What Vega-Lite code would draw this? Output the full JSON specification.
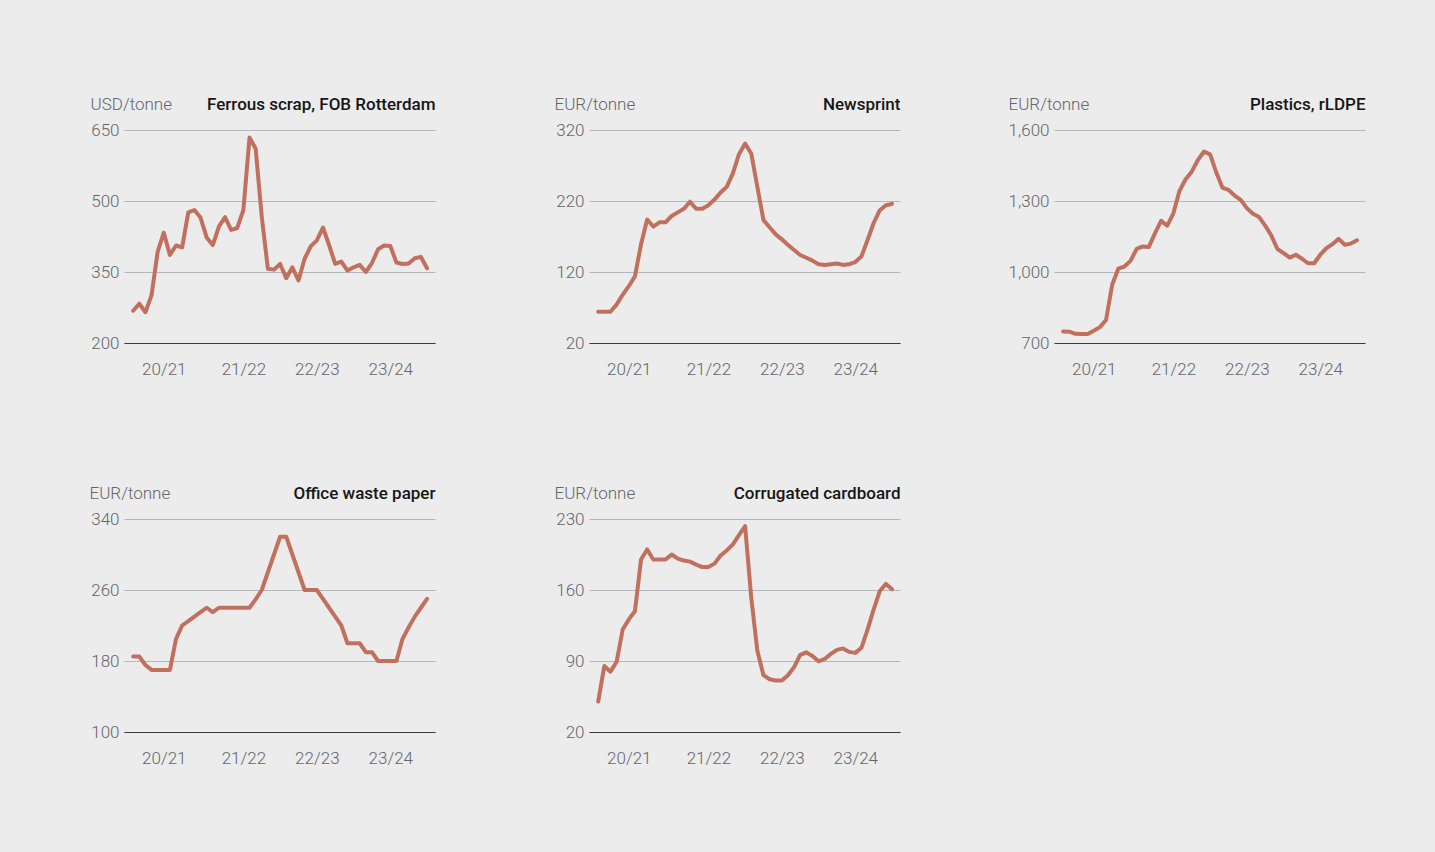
{
  "$schema": "https://vega.github.io/schema/vega-lite/v6.json",
  "background": "#ececec",
  "padding": {"left": 89, "top": 95, "right": 70, "bottom": 88},
  "bounds": "flush",
  "columns": 3,
  "spacing": {"row": 176, "column": 154},
  "datasets": {
    "ferrous": [
      {"m":0,"v":268},{"m":1,"v":283},{"m":2,"v":265},{"m":3,"v":301},{"m":4,"v":393},{"m":5,"v":433},{"m":6,"v":386},{"m":7,"v":406},{"m":8,"v":402},{"m":9,"v":476},
      {"m":10,"v":481},{"m":11,"v":465},{"m":12,"v":423},{"m":13,"v":407},{"m":14,"v":446},{"m":15,"v":466},{"m":16,"v":439},{"m":17,"v":443},{"m":18,"v":481},{"m":19,"v":634},
      {"m":20,"v":611},{"m":21,"v":467},{"m":22,"v":357},{"m":23,"v":355},{"m":24,"v":367},{"m":25,"v":337},{"m":26,"v":360},{"m":27,"v":332},{"m":28,"v":378},{"m":29,"v":404},
      {"m":30,"v":417},{"m":31,"v":444},{"m":32,"v":407},{"m":33,"v":367},{"m":34,"v":372},{"m":35,"v":353},{"m":36,"v":360},{"m":37,"v":365},{"m":38,"v":350},{"m":39,"v":369},
      {"m":40,"v":398},{"m":41,"v":406},{"m":42,"v":405},{"m":43,"v":370},{"m":44,"v":367},{"m":45,"v":368},{"m":46,"v":379},{"m":47,"v":382},{"m":48,"v":358}
    ],
    "newsprint": [
      {"m":0,"v":64},{"m":1,"v":64},{"m":2,"v":64},{"m":3,"v":74},{"m":4,"v":88},{"m":5,"v":100},{"m":6,"v":114},{"m":7,"v":159},{"m":8,"v":194},{"m":9,"v":184},
      {"m":10,"v":190},{"m":11,"v":190},{"m":12,"v":199},{"m":13,"v":204},{"m":14,"v":209},{"m":15,"v":219},{"m":16,"v":209},{"m":17,"v":209},{"m":18,"v":214},{"m":19,"v":222},
      {"m":20,"v":232},{"m":21,"v":240},{"m":22,"v":259},{"m":23,"v":286},{"m":24,"v":301},{"m":25,"v":287},{"m":26,"v":240},{"m":27,"v":193},{"m":28,"v":183},{"m":29,"v":173},
      {"m":30,"v":166},{"m":31,"v":158},{"m":32,"v":151},{"m":33,"v":144},{"m":34,"v":140},{"m":35,"v":136},{"m":36,"v":131},{"m":37,"v":130},{"m":38,"v":131},{"m":39,"v":132},
      {"m":40,"v":130},{"m":41,"v":131},{"m":42,"v":134},{"m":43,"v":142},{"m":44,"v":165},{"m":45,"v":189},{"m":46,"v":207},{"m":47,"v":214},{"m":48,"v":216}
    ],
    "plastics": [
      {"m":0,"v":749},{"m":1,"v":748},{"m":2,"v":739},{"m":3,"v":738},{"m":4,"v":738},{"m":5,"v":752},{"m":6,"v":767},{"m":7,"v":797},{"m":8,"v":946},{"m":9,"v":1014},
      {"m":10,"v":1023},{"m":11,"v":1047},{"m":12,"v":1098},{"m":13,"v":1108},{"m":14,"v":1106},{"m":15,"v":1164},{"m":16,"v":1216},{"m":17,"v":1196},{"m":18,"v":1248},{"m":19,"v":1343},
      {"m":20,"v":1392},{"m":21,"v":1424},{"m":22,"v":1473},{"m":23,"v":1509},{"m":24,"v":1497},{"m":25,"v":1421},{"m":26,"v":1357},{"m":27,"v":1347},{"m":28,"v":1323},{"m":29,"v":1305},
      {"m":30,"v":1270},{"m":31,"v":1246},{"m":32,"v":1232},{"m":33,"v":1196},{"m":34,"v":1154},{"m":35,"v":1097},{"m":36,"v":1080},{"m":37,"v":1061},{"m":38,"v":1073},{"m":39,"v":1056},
      {"m":40,"v":1037},{"m":41,"v":1037},{"m":42,"v":1073},{"m":43,"v":1101},{"m":44,"v":1118},{"m":45,"v":1140},{"m":46,"v":1115},{"m":47,"v":1120},{"m":48,"v":1134}
    ],
    "office": [
      {"m":0,"v":185},{"m":1,"v":185},{"m":2,"v":175.5},{"m":3,"v":170},{"m":4,"v":170},{"m":5,"v":170},{"m":6,"v":170},{"m":7,"v":205},{"m":8,"v":220},{"m":9,"v":225},
      {"m":10,"v":230},{"m":11,"v":235},{"m":12,"v":240},{"m":13,"v":235},{"m":14,"v":240},{"m":15,"v":240},{"m":16,"v":240},{"m":17,"v":240},{"m":18,"v":240},{"m":19,"v":240},
      {"m":20,"v":249.5},{"m":21,"v":260},{"m":22,"v":280},{"m":23,"v":300},{"m":24,"v":320},{"m":25,"v":320},{"m":26,"v":300},{"m":27,"v":280},{"m":28,"v":260},{"m":29,"v":260},
      {"m":30,"v":260},{"m":31,"v":250},{"m":32,"v":240},{"m":33,"v":230},{"m":34,"v":220},{"m":35,"v":200},{"m":36,"v":200},{"m":37,"v":200},{"m":38,"v":190},{"m":39,"v":190},
      {"m":40,"v":180},{"m":41,"v":180},{"m":42,"v":180},{"m":43,"v":180},{"m":44,"v":205},{"m":45,"v":218},{"m":46,"v":230},{"m":47,"v":240},{"m":48,"v":250}
    ],
    "corrugated": [
      {"m":0,"v":50},{"m":1,"v":85},{"m":2,"v":79.5},{"m":3,"v":89},{"m":4,"v":121},{"m":5,"v":131},{"m":6,"v":139},{"m":7,"v":190},{"m":8,"v":200},{"m":9,"v":190},
      {"m":10,"v":190},{"m":11,"v":190},{"m":12,"v":195},{"m":13,"v":191},{"m":14,"v":189},{"m":15,"v":188},{"m":16,"v":185},{"m":17,"v":182.6},{"m":18,"v":182.6},{"m":19,"v":186},
      {"m":20,"v":194},{"m":21,"v":199},{"m":22,"v":205},{"m":23,"v":214},{"m":24,"v":223},{"m":25,"v":152.5},{"m":26,"v":100},{"m":27,"v":76},{"m":28,"v":72},{"m":29,"v":70.7},
      {"m":30,"v":70.7},{"m":31,"v":76},{"m":32,"v":84},{"m":33,"v":96},{"m":34,"v":98.5},{"m":35,"v":95},{"m":36,"v":89.7},{"m":37,"v":92},{"m":38,"v":97},{"m":39,"v":101},
      {"m":40,"v":102.4},{"m":41,"v":99},{"m":42,"v":98},{"m":43,"v":103},{"m":44,"v":121},{"m":45,"v":141},{"m":46,"v":159},{"m":47,"v":166},{"m":48,"v":160.7}
    ]
  },
  "concat": [
    {
      "width": 311, "height": 213,
      "data": {"name": "ferrous"},
      "resolve": {"axis": {"x": "independent"}},
      "layer": [
        {"mark": {"type": "rule", "strokeOpacity": 0},
         "encoding": {
           "x": {"field": "m", "type": "quantitative", "scale": {"domain": [-1.5, 49.3], "nice": false, "zero": false},
                 "axis": {"orient": "top", "title": "Ferrous scrap, FOB Rotterdam", "labels": false, "ticks": false, "domain": false, "grid": false, "titleX": 311, "titleY": -21, "titleAlign": "right", "titleBaseline": "alphabetic", "titleFontWeight": 500, "titleColor": "#161616"}}}},
        {"mark": {"type": "line", "color": "#c1705e", "strokeWidth": 4, "strokeCap": "round", "strokeJoin": "round"},
         "encoding": {
           "x": {"field": "m", "type": "quantitative",
                 "axis": {"orient": "bottom", "title": null, "values": [5, 18, 30, 42], "labelExpr": "datum.value == 5 ? '20/21' : datum.value == 18 ? '21/22' : datum.value == 30 ? '22/23' : '23/24'"}},
           "y": {"field": "v", "type": "quantitative", "scale": {"domain": [200, 650], "nice": false, "zero": false},
                 "axis": {"title": "USD/tonne", "titleX": -34, "values": [200, 350, 500, 650]}}}}
      ]
    },
    {
      "width": 311, "height": 213,
      "data": {"name": "newsprint"},
      "resolve": {"axis": {"x": "independent"}},
      "layer": [
        {"mark": {"type": "rule", "strokeOpacity": 0},
         "encoding": {
           "x": {"field": "m", "type": "quantitative", "scale": {"domain": [-1.5, 49.3], "nice": false, "zero": false},
                 "axis": {"orient": "top", "title": "Newsprint", "labels": false, "ticks": false, "domain": false, "grid": false, "titleX": 311, "titleY": -21, "titleAlign": "right", "titleBaseline": "alphabetic", "titleFontWeight": 500, "titleColor": "#161616"}}}},
        {"mark": {"type": "line", "color": "#c1705e", "strokeWidth": 4, "strokeCap": "round", "strokeJoin": "round"},
         "encoding": {
           "x": {"field": "m", "type": "quantitative",
                 "axis": {"orient": "bottom", "title": null, "values": [5, 18, 30, 42], "labelExpr": "datum.value == 5 ? '20/21' : datum.value == 18 ? '21/22' : datum.value == 30 ? '22/23' : '23/24'"}},
           "y": {"field": "v", "type": "quantitative", "scale": {"domain": [20, 320], "nice": false, "zero": false},
                 "axis": {"title": "EUR/tonne", "titleX": -35, "values": [20, 120, 220, 320]}}}}
      ]
    },
    {
      "width": 311, "height": 213,
      "data": {"name": "plastics"},
      "resolve": {"axis": {"x": "independent"}},
      "layer": [
        {"mark": {"type": "rule", "strokeOpacity": 0},
         "encoding": {
           "x": {"field": "m", "type": "quantitative", "scale": {"domain": [-1.5, 49.3], "nice": false, "zero": false},
                 "axis": {"orient": "top", "title": "Plastics, rLDPE", "labels": false, "ticks": false, "domain": false, "grid": false, "titleX": 311, "titleY": -21, "titleAlign": "right", "titleBaseline": "alphabetic", "titleFontWeight": 500, "titleColor": "#161616"}}}},
        {"mark": {"type": "line", "color": "#c1705e", "strokeWidth": 4, "strokeCap": "round", "strokeJoin": "round"},
         "encoding": {
           "x": {"field": "m", "type": "quantitative",
                 "axis": {"orient": "bottom", "title": null, "values": [5, 18, 30, 42], "labelExpr": "datum.value == 5 ? '20/21' : datum.value == 18 ? '21/22' : datum.value == 30 ? '22/23' : '23/24'"}},
           "y": {"field": "v", "type": "quantitative", "scale": {"domain": [700, 1600], "nice": false, "zero": false},
                 "axis": {"title": "EUR/tonne", "titleX": -46, "values": [700, 1000, 1300, 1600]}}}}
      ]
    },
    {
      "width": 311, "height": 213,
      "data": {"name": "office"},
      "resolve": {"axis": {"x": "independent"}},
      "layer": [
        {"mark": {"type": "rule", "strokeOpacity": 0},
         "encoding": {
           "x": {"field": "m", "type": "quantitative", "scale": {"domain": [-1.5, 49.3], "nice": false, "zero": false},
                 "axis": {"orient": "top", "title": "Office waste paper", "labels": false, "ticks": false, "domain": false, "grid": false, "titleX": 311, "titleY": -21, "titleAlign": "right", "titleBaseline": "alphabetic", "titleFontWeight": 500, "titleColor": "#161616"}}}},
        {"mark": {"type": "line", "color": "#c1705e", "strokeWidth": 4, "strokeCap": "round", "strokeJoin": "round"},
         "encoding": {
           "x": {"field": "m", "type": "quantitative",
                 "axis": {"orient": "bottom", "title": null, "values": [5, 18, 30, 42], "labelExpr": "datum.value == 5 ? '20/21' : datum.value == 18 ? '21/22' : datum.value == 30 ? '22/23' : '23/24'"}},
           "y": {"field": "v", "type": "quantitative", "scale": {"domain": [100, 340], "nice": false, "zero": false},
                 "axis": {"title": "EUR/tonne", "titleX": -35, "values": [100, 180, 260, 340]}}}}
      ]
    },
    {
      "width": 311, "height": 213,
      "data": {"name": "corrugated"},
      "resolve": {"axis": {"x": "independent"}},
      "layer": [
        {"mark": {"type": "rule", "strokeOpacity": 0},
         "encoding": {
           "x": {"field": "m", "type": "quantitative", "scale": {"domain": [-1.5, 49.3], "nice": false, "zero": false},
                 "axis": {"orient": "top", "title": "Corrugated cardboard", "labels": false, "ticks": false, "domain": false, "grid": false, "titleX": 311, "titleY": -21, "titleAlign": "right", "titleBaseline": "alphabetic", "titleFontWeight": 500, "titleColor": "#161616"}}}},
        {"mark": {"type": "line", "color": "#c1705e", "strokeWidth": 4, "strokeCap": "round", "strokeJoin": "round"},
         "encoding": {
           "x": {"field": "m", "type": "quantitative",
                 "axis": {"orient": "bottom", "title": null, "values": [5, 18, 30, 42], "labelExpr": "datum.value == 5 ? '20/21' : datum.value == 18 ? '21/22' : datum.value == 30 ? '22/23' : '23/24'"}},
           "y": {"field": "v", "type": "quantitative", "scale": {"domain": [20, 230], "nice": false, "zero": false},
                 "axis": {"title": "EUR/tonne", "titleX": -35, "values": [20, 90, 160, 230]}}}}
      ]
    }
  ],
  "config": {
    "view": {"stroke": null},
    "font": "Roboto",
    "axis": {
      "labelFont": "Roboto", "labelFontSize": 17, "labelFontWeight": 300, "labelColor": "#63666b",
      "titleFont": "Roboto", "titleFontSize": 17, "titleFontWeight": 300, "titleColor": "#63666b",
      "labelOverlap": false, "labelFlush": false
    },
    "axisBottom": {"grid": false, "ticks": false, "domain": true, "domainColor": "#3a3a3a", "domainWidth": 1, "labelPadding": 18},
    "axisLeft": {"grid": true, "gridColor": "#b3b7bd", "gridWidth": 1, "ticks": false, "domain": false, "labelPadding": 5, "format": ",d", "titleAngle": 0, "titleAlign": "left", "titleBaseline": "alphabetic", "titleY": -21}
  }
}
